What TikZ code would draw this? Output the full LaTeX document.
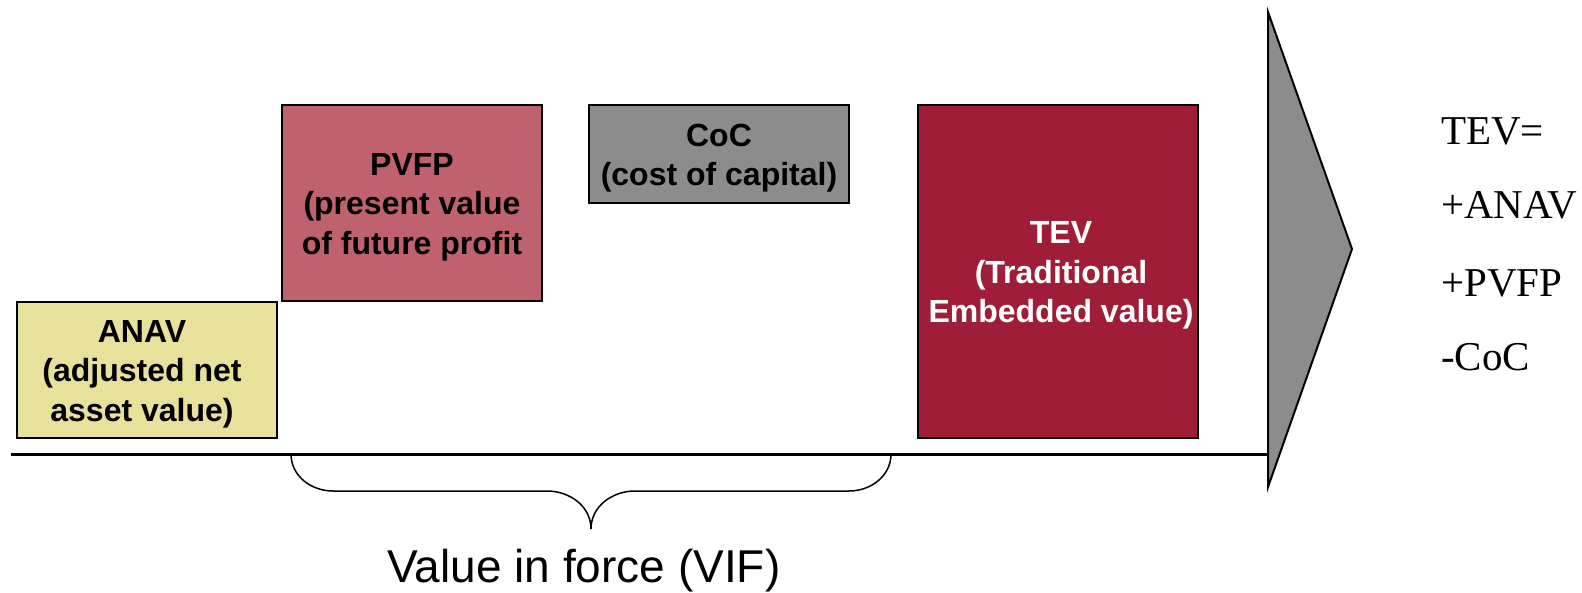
\documentclass[tikz,border=0pt]{standalone}
\usepackage{fontspec}
\setmainfont{Liberation Serif}
\setsansfont{Liberation Sans}
\definecolor{anavfill}{RGB}{232,225,155}
\definecolor{pvfpfill}{RGB}{192,97,112}
\definecolor{cocfill}{RGB}{140,140,140}
\definecolor{tevfill}{RGB}{160,29,55}
\tikzset{
  valbox/.style={draw=black, line width=2pt, inner sep=0pt},
  valtext/.style={inner sep=0pt, align=center, yshift=-4pt,
    font=\sffamily\bfseries\fontsize{32}{39.5}\selectfont},
  formula/.style={anchor=base west, inner sep=0pt,
    font=\rmfamily\fontsize{41}{45}\selectfont},
  axisline/.style={line width=3pt},
  bracepath/.style={line width=1.5pt},
}
\begin{document}
\begin{tikzpicture}[x=1pt,y=-1pt]
\useasboundingbox (0,0) rectangle (1582,592);

% value blocks
\node[valbox, fill=anavfill, minimum width=260pt, minimum height=136pt]
  (anav) at (147,370) {};
\node[valtext] (anavtext) at ([xshift=-5pt]anav.center)
  {ANAV\\(adjusted net\\asset value)};
\node[valbox, fill=pvfpfill, minimum width=260pt, minimum height=196pt]
  (pvfp) at (412,203) {};
\node[valtext] (pvfptext) at (pvfp.center)
  {PVFP\\(present value\\of future profit};
\node[valbox, fill=cocfill, minimum width=260pt, minimum height=98pt]
  (coc) at (719,154) {};
\node[valtext] (coctext) at (coc.center) {CoC\\(cost of capital)};
\node[valbox, fill=tevfill, minimum width=280pt, minimum height=333pt]
  (tev) at (1058,271.5) {};
\node[valtext, text=white] (tevtext) at ([xshift=3pt]tev.center)
  {TEV\\(Traditional\\Embedded value)};

% arrow head shape at the end of the axis
\coordinate (triTop) at (1268,12);
\coordinate (triTip) at (1352,249);
\coordinate (triBot) at (1268,487);
\draw[line width=2pt, fill=cocfill, line join=miter] (triTop) -- (triTip) -- (triBot) -- cycle;

% horizontal axis
\coordinate (axisL) at (11,454);
\coordinate (axisR) at (1268,454);
\draw[axisline] (axisL) -- (axisR);

% brace under the value in force part
\coordinate (brL) at (291,454);
\coordinate (brR) at (891,454);
\coordinate (brTip) at (591,529);
\draw[bracepath] (brL) to[out=-90,in=180] (333,491) -- (547,491)
  to[out=0,in=90] (brTip);
\draw[bracepath] (brR) to[out=-90,in=0] (849,491) -- (635,491)
  to[out=180,in=90] (brTip);
\node[anchor=base, inner sep=0pt, font=\sffamily\fontsize{46}{50}\selectfont]
  (vif) at (584,582) {Value in force (VIF)};

% formula
\node[formula] (f1) at (1441,144) {TEV=};
\node[formula] (f2) at (1441,218) {+ANAV};
\node[formula] (f3) at (1441,296) {+PVFP};
\node[formula] (f4) at (1441,370) {-CoC};
\end{tikzpicture}
\end{document}
